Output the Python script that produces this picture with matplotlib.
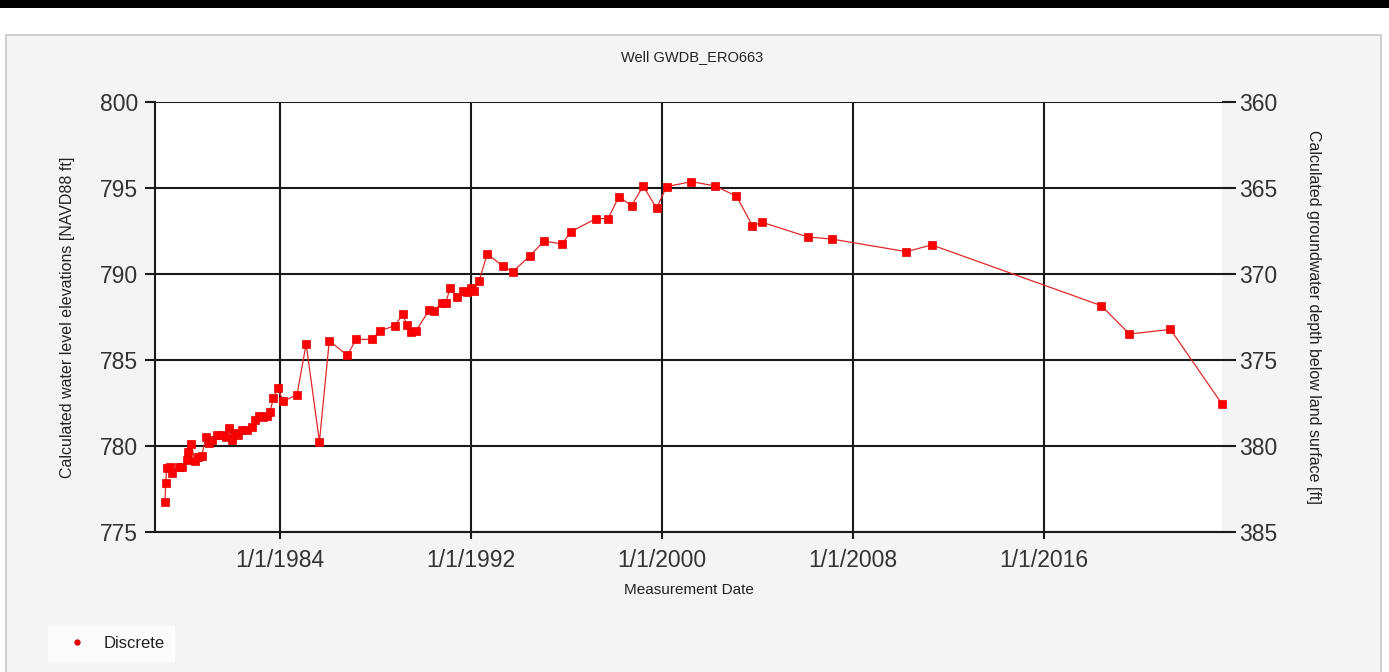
import pandas as pd
import matplotlib
matplotlib.use("Agg")
import matplotlib.pyplot as plt
from matplotlib.lines import Line2D
from matplotlib.patches import Rectangle

plt.rcParams['font.family'] = ['Liberation Sans', 'DejaVu Sans']

# Well measurements (discrete readings)
well_name = "Well GWDB_ERO663"
meas_dates = [
    '1979-03-06', '1979-03-17', '1979-04-01', '1979-05-22', '1979-06-17',
    '1979-10-08', '1979-11-17', '1980-02-03', '1980-02-28', '1980-04-08',
    '1980-06-09', '1980-07-30', '1980-09-19', '1980-11-20', '1981-01-12',
    '1981-02-21', '1981-05-08', '1981-07-24', '1981-09-24', '1981-11-10',
    '1982-01-02', '1982-02-03', '1982-04-02', '1982-06-03', '1982-08-11',
    '1982-10-23', '1982-12-13', '1983-02-14', '1983-04-20', '1983-06-10',
    '1983-07-31', '1983-09-20', '1983-11-24', '1984-02-21', '1984-09-16',
    '1985-02-03', '1985-08-25', '1986-01-23', '1986-10-27', '1987-03-08',
    '1987-11-03', '1988-03-11', '1988-10-27', '1989-02-21', '1989-04-23',
    '1989-06-21', '1989-09-13', '1990-04-01', '1990-06-14', '1990-10-08',
    '1990-12-13', '1991-02-14', '1991-05-27', '1991-08-26', '1991-10-27',
    '1991-12-28', '1992-02-17', '1992-05-04', '1992-09-06', '1993-05-01',
    '1993-10-01', '1994-06-24', '1995-01-23', '1995-10-27', '1996-03-10',
    '1997-03-29', '1997-10-01', '1998-03-15', '1998-09-24', '1999-03-22',
    '1999-10-12', '2000-03-14', '2001-03-29', '2002-03-22', '2003-02-17',
    '2003-10-19', '2004-03-21', '2006-02-17', '2007-02-17', '2010-04-01',
    '2011-04-27', '2018-06-03', '2019-08-08', '2021-04-27', '2023-06-25',
]
water_elev = [
    776.76, 777.87, 778.70, 778.76, 778.45,
    778.80, 778.76, 779.19, 779.67, 780.12,
    779.15, 779.34, 779.42, 780.51, 780.20,
    780.35, 780.64, 780.64, 780.54, 781.07,
    780.35, 780.74, 780.64, 780.93, 780.93,
    781.12, 781.51, 781.74, 781.70, 781.74,
    781.99, 782.77, 783.35, 782.60, 782.99,
    785.93, 780.25, 786.12, 785.27, 786.20,
    786.20, 786.70, 787.00, 787.67, 787.03,
    786.65, 786.70, 787.90, 787.87, 788.30,
    788.34, 789.17, 788.65, 789.03, 788.98,
    789.20, 789.03, 789.60, 791.16, 790.47,
    790.13, 791.06, 791.92, 791.74, 792.46,
    793.22, 793.22, 794.50, 793.97, 795.12,
    793.82, 795.08, 795.37, 795.12, 794.53,
    792.81, 793.00, 792.15, 792.03, 791.30,
    791.69, 788.16, 786.51, 786.78, 782.44,
]

# land surface elevation used for the depth axis
land_surface = 1160.0

tick_dates = ['1984-01-01', '1992-01-01', '2000-01-01', '2008-01-01', '2016-01-01']
tick_labels = ['1/1/1984', '1/1/1992', '1/1/2000', '1/1/2008', '1/1/2016']
elev_ticks = [775, 780, 785, 790, 795, 800]
depth_ticks = [360, 365, 370, 375, 380, 385]

dates = pd.to_datetime(meas_dates)

W, H = 1389, 672
fig = plt.figure(figsize=(W / 100, H / 100), dpi=100, facecolor='white')

# window frame: dark strip on top, light grey panel below (behind the axes)
fig.patches.append(Rectangle((0, 1 - 8 / H), 1, 8 / H, transform=fig.transFigure,
                             facecolor='black', edgecolor='none', zorder=-5))
fig.patches.append(Rectangle((6 / W, -0.01), 1375 / W, (H - 35) / H + 0.01,
                             transform=fig.transFigure, facecolor='#f4f4f4',
                             edgecolor='#c8c8c8', linewidth=1.2, zorder=-5))

ax = fig.add_axes([155 / W, 1 - 532 / H, (1222 - 155) / W, (532 - 102) / H])
ax.set_facecolor('white')

ax.plot(dates, water_elev, color='#e02828', linewidth=0.9,
        marker='s', markersize=5.4, markerfacecolor='red',
        markeredgecolor='#dd0000', markeredgewidth=0.5, clip_on=False, zorder=3)

ax.set_ylim(775, 800)
ax.set_yticks(elev_ticks)
ax.set_xlim(pd.Timestamp('1978-10-04'), dates[-1])
ax.set_xticks(pd.to_datetime(tick_dates))
ax.set_xticklabels(tick_labels)

ax.grid(True, color='#1a1a1a', linewidth=1.5)
ax.set_axisbelow(True)
for side in ['top', 'right']:
    ax.spines[side].set_visible(False)
for side in ['left', 'bottom']:
    ax.spines[side].set_color('#1a1a1a')
    ax.spines[side].set_linewidth(1.5)

ax.tick_params(axis='y', length=7, width=1.5, color='#1a1a1a', pad=5,
               labelsize=16.5, labelcolor='#333333')
ax.tick_params(axis='x', length=5, width=1.5, color='#1a1a1a', pad=7,
               labelsize=16.5, labelcolor='#333333')

# depth below land surface on the right (inverted)
sec = ax.secondary_yaxis('right', functions=(lambda y: land_surface - y,
                                             lambda d: land_surface - d))
sec.set_yticks(depth_ticks)
sec.spines['right'].set_visible(False)
sec.tick_params(length=10, width=1.5, color='#1a1a1a', pad=2,
                labelsize=16.5, labelcolor='#333333')
sec.set_ylabel('Calculated groundwater depth below land surface [ft]',
               fontsize=11.5, color='#222222', rotation=-90, labelpad=32)

ax.set_ylabel('Calculated water level elevations [NAVD88 ft]',
              fontsize=11.5, color='#222222')
ax.yaxis.set_label_coords(-(155 - 75) / (1222 - 155), 0.5)
ax.set_xlabel('Measurement Date', fontsize=11, color='#222222')
ax.xaxis.set_label_coords(0.5, -(583 - 532) / (532 - 102))

fig.text(692 / W, 1 - 57 / H, well_name, fontsize=10.5, color='#222222',
         ha='center', va='center')

# legend
handle = Line2D([0], [0], linestyle='none', marker='o', markersize=3.5,
                color='red', markeredgecolor='#cc0000')
fig.legend([handle], ['Discrete'], loc='center left',
           bbox_to_anchor=(40 / W, 1 - 643 / H), fontsize=12,
           frameon=True, facecolor='white', edgecolor='white',
           fancybox=False, borderpad=0.6, handletextpad=0.5, handlelength=2.2,
           labelcolor='#222222')

fig.savefig('out.png', dpi=100, facecolor=fig.get_facecolor())
